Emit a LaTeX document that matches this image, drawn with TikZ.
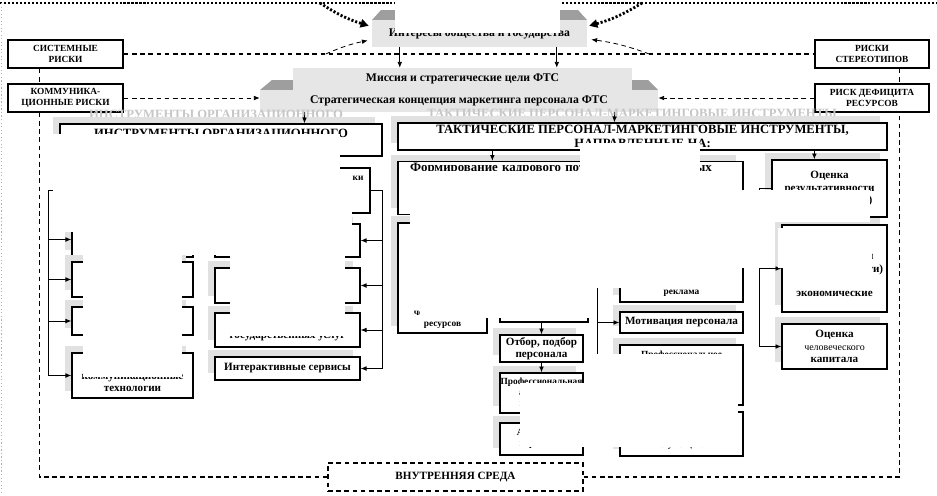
\documentclass[tikz,border=0pt]{standalone}
\usepackage{fontspec}
\setmainfont{Liberation Serif}
\usetikzlibrary{arrows.meta,calc,shadows}
\definecolor{plategray}{RGB}{230,230,230}
\definecolor{roofgray}{RGB}{158,158,158}
\definecolor{backgray}{RGB}{225,225,225}

\begin{document}
\begin{tikzpicture}[x=0.03cm,y=-0.03cm,
    sz/.style 2 args={minimum width=#1*0.03cm, minimum height=#2*0.03cm},
    box/.style={draw, line width=1.1pt, fill=white, inner sep=0pt, align=center,
        font=\bfseries\fontsize{9.5}{10.5}\selectfont},
    back/.style={general shadow={fill=backgray, shadow xshift=-0.21cm, shadow yshift=0.21cm}},
    riskbox/.style={draw, line width=1.2pt, fill=white, inner sep=0pt, align=center,
        font=\bfseries\fontsize{8}{9.5}\selectfont},
    plate/.style={fill=plategray, inner sep=0pt, font=\bfseries\fontsize{10}{12}\selectfont},
    roof/.style={fill=roofgray},
    title/.style={font=\bfseries\fontsize{10.8}{12}\selectfont},
    ghost/.style={title, text=gray!45, inner sep=0pt},
    dline/.style={line width=0.9pt, dash pattern=on 4pt off 3pt},
    bigdot/.style={line width=2.4pt, dash pattern=on 1.8pt off 1.6pt},
    arr/.style={-{Latex[length=5pt,width=4pt]}, line width=0.7pt},
    small/.style={font=\bfseries\fontsize{8}{9.5}\selectfont}]
    \useasboundingbox (0,0) rectangle (937,495);

    % Outer frame
    \draw[bigdot] (0,3) -- (937,3);
    \draw[gray!60, line width=0.8pt, dash pattern=on 1pt off 2pt] (1,3) -- (1,495);
    \coordinate (outl) at (320,3);
    \coordinate (outr) at (642,3);

    % Upper level
    \fill[roof] (372,20) -- (381,10) -- (578,10) -- (587,20) -- cycle;
    \node[plate, sz={215}{27}] (interests) at (479.5,33.5) {Интересы общества и государства};
    \fill[roof] (260,90) -- (272,80) -- (293,80) -- (293,90) -- cycle;
    \fill[roof] (632,90) -- (632,80) -- (648,80) -- (658,90) -- cycle;
    \node[plate, sz={339}{22}] (mission) at (462.5,79) {Миссия и стратегические цели ФТС};
    \node[plate, sz={398}{22}] (concept) at (459,101) {Стратегическая концепция маркетинга персонала ФТС};

    % Risks
    \node[riskbox, sz={115}{28}] (sysrisk) at (65.5,54) {СИСТЕМНЫЕ\\РИСКИ};
    \node[riskbox, sz={115}{28}] (comrisk) at (65.5,98) {КОММУНИКА-\\ЦИОННЫЕ РИСКИ};
    \node[riskbox, sz={114}{28}] (sterrisk) at (872,54) {РИСКИ\\СТЕРЕОТИПОВ};
    \node[riskbox, sz={114}{28}] (resrisk) at (872,98) {РИСК ДЕФИЦИТА\\РЕСУРСОВ};
    \node[box, dline, sz={255}{28}] (inner) at (455.5,477) {ВНУТРЕННЯЯ СРЕДА};

    % Organizational tools
    \node[ghost] (orgghost) at (216,116) {ИНСТРУМЕНТЫ ОРГАНИЗАЦИОННОГО};
    \node[box, back, title, sz={322}{32}] (orgtools) at (221,140) {ИНСТРУМЕНТЫ ОРГАНИЗАЦИОННОГО\\ПЕРСОНАЛ-МАРКЕТИНГА};
    \node[box, sz={315}{45}] (kbox) at (212.5,190.5) {};
    \node[box, back, sz={121}{35}] (l1) at (132.5,239.5) {};
    \node[box, back, sz={121}{35}] (l2) at (132.5,279.5) {};
    \node[box, back, sz={121}{28}] (l3) at (132.5,321) {};
    \node[box, back, sz={121}{45}] (l4) at (132.5,375.5) {Информационно-\\коммуникационные\\технологии};
    \node[box, back, sz={145}{33}] (m1) at (287.5,240.5) {};
    \node[box, back, sz={145}{35}] (m2) at (287.5,285.5) {};
    \node[box, back, sz={145}{34}] (m3) at (287.5,330) {Единый портал\\государственных услуг};
    \node[box, back, sz={145}{23}] (m4) at (287.5,368.5) {Интерактивные сервисы};

    % Tactical tools
    \node[ghost] (tacghost) at (632,113) {ТАКТИЧЕСКИЕ ПЕРСОНАЛ-МАРКЕТИНГОВЫЕ ИНСТРУМЕНТЫ};
    \node[box, back, title, sz={489}{27}] (tactools) at (642.5,136.5) {ТАКТИЧЕСКИЕ ПЕРСОНАЛ-МАРКЕТИНГОВЫЕ ИНСТРУМЕНТЫ,\\НАПРАВЛЕННЫЕ НА:};
    \node[box, back, sz={345}{53}, align=left, text width=9.63cm,
        font=\bfseries\fontsize{11}{12}\selectfont] (fbox) at (570.5,188) {Формирование кадрового потенциала таможенных органов,\\привлекательного образа службы в коллективе\\к};
    \node[box, back, sz={115}{57}] (o1) at (829.5,188.5) {Оценка\\результативности\\(эффективности)};
    \node[box, back, sz={105}{87}] (o2) at (834.5,268.5) {Оценка\\эффективности\\(результативности)\\социально-\\экономические};
    \node[box, back, sz={105}{45}] (o3) at (834.5,346.5) {Оценка\\{\mdseries\fontsize{8.5}{10}\selectfont человеческого}\\капитала};
    \node[box, back, sz={89}{110},
        label={[small, anchor=south, align=center, yshift=1pt]south:человеческих\\ресурсов}] (p1) at (442.5,278) {};
    \node[box, back, sz={88}{99}] (p2) at (544,272.5) {};
    \node[box, back, sz={83}{27}] (select) at (541.5,348.5) {Отбор, подбор\\персонала};
    \node[box, back, small, sz={83}{40}] (p4) at (541.5,393) {Профессиональная\\адаптация\\персонала};
    \node[box, back, small, sz={83}{32}] (p5) at (541.5,439) {Аттестация\\персонала};
    \node[box, back, sz={123}{79},
        label={[small, anchor=south, yshift=2pt]south:реклама}] (r1) at (681.5,262.5) {};
    \node[box, back, sz={123}{21}] (motiv) at (681.5,322.5) {Мотивация персонала};
    \node[box, back, small, sz={123}{60},
        label={[small, anchor=north, yshift=-2pt]north:Профессиональное}] (prof) at (681.5,375) {развитие и обучение\\персонала};
    \node[box, back, small, sz={123}{44}] (career) at (681.5,434) {Карьерное\\продвижение\\служащего};

    % Connectors
    \draw[bigdot, -{Triangle[length=7pt,width=7pt]}] (outl) to[bend right=8] ($(interests.north west)+(-3,6)$);
    \draw[bigdot, -{Triangle[length=7pt,width=7pt]}] (outr) to[bend left=8] ($(interests.north east)+(2,6)$);
    \draw[arr] ($(interests.south west)+(28,0)$) -- ($(mission.north west)+(107,0)$);
    \draw[arr] ($(interests.south west)+(185,0)$) -- ($(mission.north west)+(264,0)$);
    \draw[arr] ($(concept.south west)+(45,0)$) -- ($(orgtools.north west)+(245,0)$);
    \draw[arr] ($(concept.south west)+(355,0)$) -- ($(tactools.north west)+(217,0)$);
    \draw[arr] ($(tactools.south west)+(95,0)$) -- ($(fbox.north west)+(95,0)$);
    \draw[arr] ($(tactools.south west)+(417,0)$) -- ($(o1.north west)+(43,0)$);

    \draw[dline] (sysrisk) -- (sterrisk);
    \draw[dline, arr] ($(sysrisk.east)+(202,0)$) to[bend left=6] ($(interests.west)+(-4,7)$);
    \draw[dline, arr] ($(sterrisk.west)+(-165,0)$) to[bend right=6] ($(interests.east)+(4,6)$);
    \draw[dline, arr] (comrisk.east) -- (comrisk.east -| concept.west);
    \draw[dline, arr] (resrisk.west) -- (resrisk.west -| concept.east);
    \draw[dline] ($(sysrisk.south west)+(32,0)$) -- ($(comrisk.north west)+(32,0)$);
    \draw[dline] ($(comrisk.south west)+(32,0)$) |- (inner.west);
    \draw[dline] ($(sterrisk.south west)+(85,0)$) -- ($(resrisk.north west)+(85,0)$);
    \draw[dline] (inner.east) -| ($(resrisk.south west)+(85,0)$);

    \foreach \b in {l1,l2,l3,l4}
        \draw[arr] (kbox.west) -- ++(-6,0) |- (\b.west);
    \foreach \b in {m1,m2,m3,m4}
        \draw[arr] (kbox.east) -- ++(12,0) |- (\b.east);
    \foreach \b in {o2,o3}
        \draw[arr] (o1.west) -- ++(-12,0) |- (\b.west);
    \draw[arr] (select.north |- p2.south) -- (select.north);
    \draw[arr] (p4.north |- select.south) -- (p4.north);
    \foreach \b in {r1,motiv,prof,career}
        \draw[arr] ($(fbox.south west)+(200,0)$) |- (\b.west);

    % Blanked areas of the scan
    \fill[white] (395,0) rectangle (560,33);
    \fill[white] (53,134) rectangle (340,232);
    \fill[white] (340,196) rectangle (352,232);
    \fill[white] (83,232) rectangle (200,255);
    \fill[white] (83,255) rectangle (182,377);
    \fill[white] (203,232) rectangle (345,255);
    \fill[white] (230,255) rectangle (345,336);
    \fill[white] (580,143) rectangle (700,171);
    \fill[white] (410,171) rectangle (700,190);
    \fill[white] (410,190) rectangle (770,268);
    \fill[white] (770,190) rectangle (870,222);
    \fill[white] (778,228) rectangle (872,268);
    \fill[white] (784,268) rectangle (872,290);
    \fill[white] (410,268) rectangle (740,288);
    \fill[white] (420,288) rectangle (596,318);
    \fill[white] (588,354) rectangle (738,383);
    \fill[white] (520,383) rectangle (738,447);
    \node[small] (ktail) at (358,178) {ки};
\end{tikzpicture}
\end{document}
